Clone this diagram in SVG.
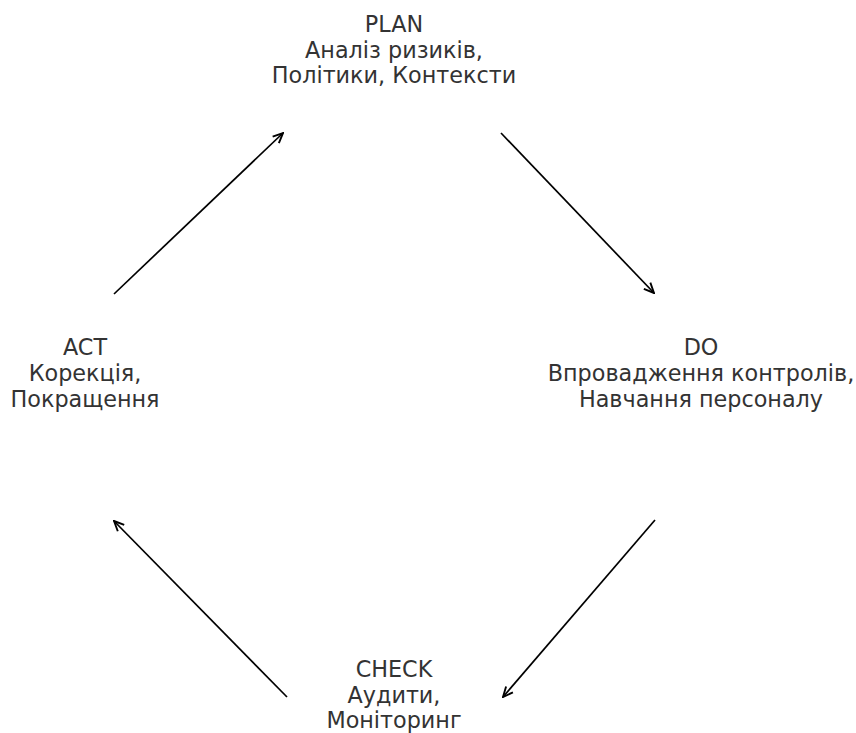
<svg xmlns="http://www.w3.org/2000/svg" width="856" height="733" viewBox="0 0 856 733">
<defs>
<style>
text{font-family:"DejaVu Sans",sans-serif;font-size:22.3px;fill:#333;text-anchor:middle}
.c{stroke:#000;stroke-width:1.7;fill:none}
</style>
<marker id="ah" viewBox="0 0 12 12" refX="11" refY="6" markerWidth="12" markerHeight="12" markerUnits="userSpaceOnUse" orient="auto">
<path d="M1,1.5 L11,6 L1,10.5" fill="none" stroke="#000" stroke-width="1.9"/>
</marker>
</defs>
<rect width="856" height="733" fill="#fff"/>
<g id="plan"><text x="394" y="32">PLAN</text><text x="394" y="57.5">Аналіз ризиків,</text><text x="394" y="83">Політики, Контексти</text></g>
<g id="do"><text x="701" y="355">DO</text><text x="701" y="381">Впровадження контролів,</text><text x="701" y="407">Навчання персоналу</text></g>
<g id="check"><text x="394" y="677">CHECK</text><text x="394" y="702.5">Аудити,</text><text x="394" y="728">Моніторинг</text></g>
<g id="act"><text x="85" y="355">ACT</text><text x="85" y="381">Корекція,</text><text x="85" y="407">Покращення</text></g>
<g id="connectors">
<line class="c" x1="501" y1="133" x2="654" y2="293" marker-end="url(#ah)"/>
<line class="c" x1="655" y1="520" x2="503" y2="697" marker-end="url(#ah)"/>
<line class="c" x1="287" y1="697" x2="114" y2="521" marker-end="url(#ah)"/>
<line class="c" x1="114" y1="294" x2="283" y2="133" marker-end="url(#ah)"/>
</g>
</svg>
